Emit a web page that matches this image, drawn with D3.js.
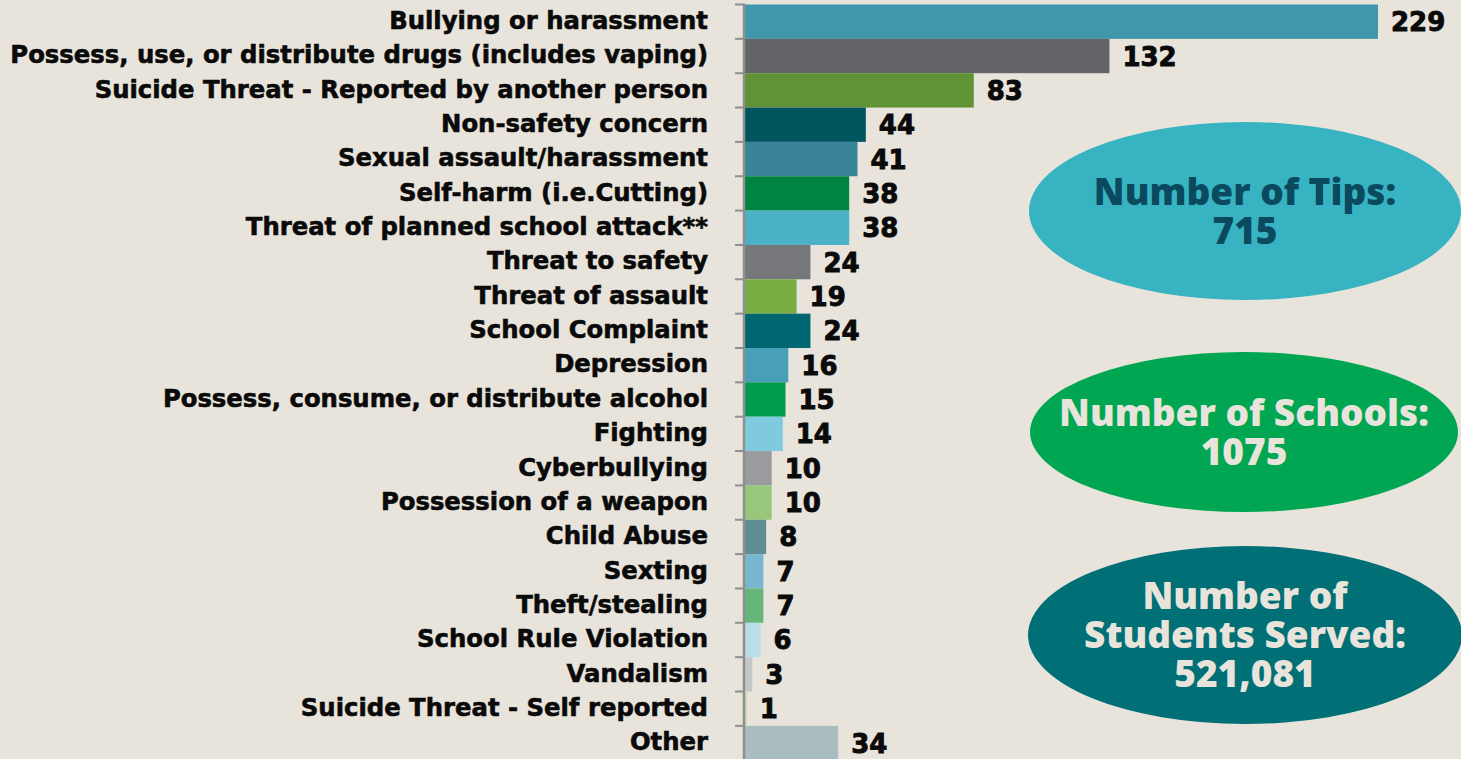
<!DOCTYPE html>
<html lang="en">
<head>
    <meta charset="UTF-8">
    <title>Tips by category</title>
    <script src="https://d3js.org/d3.v7.min.js"></script>
    <style>
        html, body { margin: 0; padding: 0; background: #e8e4db; }
        svg { display: block; }
    </style>
</head>
<body>
    <div id="chart"></div>

    <script>
        const categories = [
            "Bullying or harassment",
            "Possess, use, or distribute drugs (includes vaping)",
            "Suicide Threat - Reported by another person",
            "Non-safety concern",
            "Sexual assault/harassment",
            "Self-harm (i.e.Cutting)",
            "Threat of planned school attack**",
            "Threat to safety",
            "Threat of assault",
            "School Complaint",
            "Depression",
            "Possess, consume, or distribute alcohol",
            "Fighting",
            "Cyberbullying",
            "Possession of a weapon",
            "Child Abuse",
            "Sexting",
            "Theft/stealing",
            "School Rule Violation",
            "Vandalism",
            "Suicide Threat - Self reported",
            "Other"
        ];
        const tips = [229, 132, 83, 44, 41, 38, 38, 24, 19, 24, 16, 15, 14, 10, 10, 8, 7, 7, 6, 3, 1, 34];
        const barColors = [
            "#4096aa", "#646569", "#609336", "#00555e", "#3a8499", "#008540",
            "#4bb1c7", "#76777b", "#78ae42", "#006670", "#47a0b8", "#009b4c",
            "#80cae0", "#9a9b9f", "#98c67a", "#628c94", "#78b7cf", "#66b57b",
            "#b7dfe9", "#c5c6c8", "#c6e2a8", "#a9bdc0"
        ];

        const statLines = [
            ["Number of Tips:", "715"],
            ["Number of Schools:", "1075"],
            ["Number of", "Students Served:", "521,081"]
        ];
        const statFills = ["#37b3c2", "#00a651", "#006f76"];
        const statText = ["#0b4a5e", "#e8e4db", "#e8e4db"];

        const width = 1461;
        const height = 759;

        const svg = d3.select("#chart").append("svg")
            .attr("width", width)
            .attr("height", height);

        const x = d3.scaleLinear()
            .domain([0, 229])
            .range([744, 1378]);

        const y = d3.scaleBand()
            .domain(categories)
            .range([4.5, 760.2])
            .padding(0);

        // bars
        svg.selectAll(".bar")
            .data(tips)
            .enter()
            .append("rect")
            .attr("class", "bar")
            .attr("x", x(0))
            .attr("y", (d, i) => y(categories[i]))
            .attr("width", d => x(d) - x(0))
            .attr("height", y.bandwidth())
            .attr("fill", (d, i) => barColors[i]);

        // value labels
        svg.selectAll(".val")
            .data(tips)
            .enter()
            .append("text")
            .attr("class", "val")
            .attr("x", d => x(d) + 13)
            .attr("y", (d, i) => y(categories[i]) + y.bandwidth() / 2 + 9.5)
            .attr("font-family", "DejaVu Sans")
            .attr("font-weight", "bold")
            .attr("font-size", 26)
            .attr("fill", "#0a0a0a")
            .attr("stroke", "#0a0a0a")
            .attr("stroke-width", 0.9)
            .text(d => d);

        // category axis
        const yAxis = svg.append("g")
            .attr("transform", "translate(" + x(0) + ",0)")
            .call(d3.axisLeft(y).tickSize(0).tickPadding(36));

        yAxis.select(".domain").remove();
        yAxis.selectAll("text")
            .attr("font-family", "DejaVu Sans")
            .attr("font-weight", "bold")
            .attr("font-size", 20)
            .attr("fill", "#0a0a0a")
            .attr("stroke", "#0a0a0a")
            .attr("stroke-width", 0.6)
            .attr("dy", "0.3em");

        // fit longest label to the original width
        let maxW = 0;
        yAxis.selectAll("text").each(function () {
            maxW = Math.max(maxW, this.getComputedTextLength());
        });
        const fs = 20 * 698 / maxW;
        yAxis.selectAll("text").attr("font-size", fs);

        // boundary ticks
        yAxis.selectAll(".bound")
            .data(categories)
            .enter()
            .append("line")
            .attr("class", "bound")
            .attr("x1", -9)
            .attr("x2", 0)
            .attr("y1", d => y(d))
            .attr("y2", d => y(d))
            .attr("stroke", "#8f8f8f")
            .attr("stroke-width", 2);

        yAxis.append("line")
            .attr("x1", 0)
            .attr("x2", 0)
            .attr("y1", y.range()[0] - 1)
            .attr("y2", height)
            .attr("stroke", "#8f8f8f")
            .attr("stroke-width", 2.5);

        // stat ellipses
        const ellipses = [
            { cx: 1245, cy: 211, rx: 216, ry: 89 },
            { cx: 1244, cy: 432, rx: 214, ry: 80 },
            { cx: 1245, cy: 635, rx: 217, ry: 89 }
        ];

        const stats = svg.selectAll(".stat")
            .data(ellipses)
            .enter()
            .append("g")
            .attr("class", "stat");

        stats.append("ellipse")
            .attr("cx", d => d.cx)
            .attr("cy", d => d.cy)
            .attr("rx", d => d.rx)
            .attr("ry", d => d.ry)
            .attr("fill", (d, i) => statFills[i]);

        stats.each(function (d, i) {
            const lines = statLines[i];
            const lh = 39;
            const first = d.cy + 13 - (lines.length - 1) * lh / 2;
            const t = d3.select(this).append("text")
                .attr("text-anchor", "middle")
                .attr("font-family", "Open Sans")
                .attr("font-weight", 800)
                .attr("font-size", 37)
                .attr("fill", statText[i]);
            t.selectAll("tspan")
                .data(lines)
                .enter()
                .append("tspan")
                .attr("x", d.cx)
                .attr("y", (s, j) => first + j * lh)
                .text(s => s);
        });
    </script>
</body>
</html>
